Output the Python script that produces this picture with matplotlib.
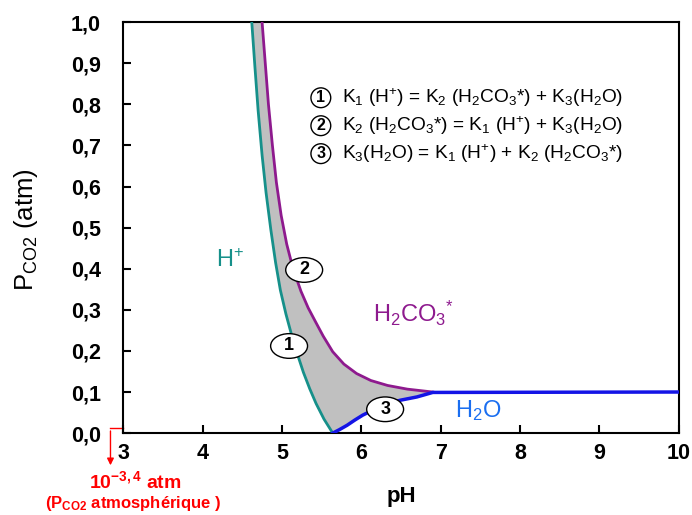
import matplotlib
matplotlib.use("Agg")
import matplotlib.pyplot as plt
from matplotlib.patches import Ellipse

plt.rcParams['font.family'] = ['Liberation Sans', 'DejaVu Sans']
plt.rcParams['mathtext.fontset'] = 'custom'
plt.rcParams['mathtext.rm'] = 'Liberation Sans'
plt.rcParams['mathtext.it'] = 'Liberation Sans'
plt.rcParams['mathtext.bf'] = 'Liberation Sans:bold'

# Curve 1 : K1(H+) = K2(H2CO3*) + K3(H2O)  (teal)
ph_1 = [4.62, 4.66, 4.70, 4.75, 4.80, 4.86, 4.92, 4.98, 5.05, 5.12, 5.19, 5.27, 5.35, 5.43, 5.53, 5.64]
p_1 = [1.0, 0.89, 0.785, 0.676, 0.585, 0.495, 0.415, 0.348, 0.29, 0.24, 0.195, 0.148, 0.108, 0.072, 0.034, 0.0]

# Curve 2 : K2(H2CO3*) = K1(H+) + K3(H2O)  (purple)
ph_2 = [4.75, 4.79, 4.83, 4.88, 4.93, 4.99, 5.06, 5.14, 5.24, 5.33, 5.42, 5.52, 5.64, 5.78, 5.94, 6.12, 6.33, 6.58, 6.90]
p_2 = [1.0, 0.90, 0.80, 0.70, 0.61, 0.53, 0.46, 0.40, 0.345, 0.305, 0.272, 0.236, 0.198, 0.168, 0.145, 0.128, 0.116, 0.107, 0.100]

# Curve 3 : K3(H2O) = K1(H+) + K2(H2CO3*)  (blue)
ph_3 = [5.64, 5.72, 5.82, 5.92, 6.02, 6.20, 6.35, 6.49, 6.70, 6.90, 10.0]
p_3 = [0.0, 0.008, 0.019, 0.032, 0.044, 0.061, 0.072, 0.080, 0.088, 0.099, 0.100]

x_ticks = [3, 4, 5, 6, 7, 8, 9, 10]
x_ticklabels = ['3', '4', '5', '6', '7', '8', '9', '10']
y_ticks = [0.0, 0.1, 0.2, 0.3, 0.4, 0.5, 0.6, 0.7, 0.8, 0.9, 1.0]
y_ticklabels = ['0,0', '0,1', '0,2', '0,3', '0,4', '0,5', '0,6', '0,7', '0,8', '0,9', '1,0']

legend_lines = [
    ('1', r'K$_1$ (H$^{+}$) = K$_2$ (H$_2$CO$_3$*) + K$_3$(H$_2$O)'),
    ('2', r'K$_2$ (H$_2$CO$_3$*) = K$_1$ (H$^{+}$) + K$_3$(H$_2$O)'),
    ('3', r'K$_3$(H$_2$O) = K$_1$ (H$^{+}$) + K$_2$ (H$_2$CO$_3$*)'),
]

# curve-number markers: (label, pH, PCO2)
marker_labels = ['2', '1', '3']
marker_ph = [5.28, 5.09, 6.30]
marker_p = [0.397, 0.212, 0.058]

teal = '#16908a'
purple = '#8e1a8e'
blue = '#1414e6'
lblue = '#1a6ef0'

fig = plt.figure(figsize=(6.92, 5.15), dpi=100)
ax = fig.add_axes([0.178, 0.159, 0.803, 0.798])

# Shaded region between the three curves
n3 = len(ph_3) - 1
poly_x = ph_1 + ph_3[1:n3] + ph_2[::-1][1:]
poly_y = p_1 + p_3[1:n3] + p_2[::-1][1:]
ax.fill(poly_x, poly_y, color='#c0c0c0', lw=0, zorder=1)

ax.plot(ph_1, p_1, color=teal, lw=2, zorder=3)
ax.plot(ph_2, p_2, color=purple, lw=2, zorder=3)
ax.plot(ph_3, p_3, color=blue, lw=2.5, zorder=3)

ax.set_xlim(3, 10)
ax.set_ylim(0, 1.0)
ax.set_xticks(x_ticks)
ax.set_xticklabels(x_ticklabels)
ax.set_yticks(y_ticks)
ax.set_yticklabels(y_ticklabels)
ax.tick_params(direction='in', length=6, width=1.5, labelsize=15.5)
ax.tick_params(axis='y', pad=16)
ax.tick_params(axis='x', pad=7)
for lab in ax.get_xticklabels() + ax.get_yticklabels():
    lab.set_fontweight('bold')
for s in ax.spines.values():
    s.set_linewidth(1.5)

ax.set_xlabel('pH', fontsize=16, fontweight='bold', labelpad=16)
fig.text(0.038, 0.555, r'P$_{\mathrm{CO2}}$ (atm)', rotation=90, fontsize=18.5,
         ha='center', va='center')

# Region labels
ax.text(4.35, 0.42, r'H$^{+}$', color=teal, fontsize=17, ha='center', va='center')
ax.text(6.66, 0.29, r'H$_2$CO$_3$$^{*}$', color=purple, fontsize=17, ha='center', va='center')
ax.text(7.47, 0.055, r'H$_2$O', color=lblue, fontsize=17, ha='center', va='center')

# Curve number ellipses
for lab, xm, ym in zip(marker_labels, marker_ph, marker_p):
    ax.add_patch(Ellipse((xm, ym), 0.465, 0.06, fc='white', ec='black', lw=1, zorder=5))
    ax.text(xm, ym, lab, fontsize=13, fontweight='bold', ha='center', va='center', zorder=6)

# Legend with circled numbers
for i, (num, txt) in enumerate(legend_lines):
    y = 0.816 - i * 0.068
    ax.text(5.49, y, num, fontsize=11.5, fontweight='bold', ha='center', va='center',
            bbox=dict(boxstyle='circle,pad=0.15', fc='white', ec='black', lw=1))
    ax.text(5.76, y, txt, fontsize=13.8, ha='left', va='center')

# Atmospheric PCO2 marker
ax.plot([3.0, 2.84], [0.012, 0.012], color='red', lw=1, clip_on=False)
ax.annotate('', xy=(2.84, -0.085), xytext=(2.84, 0.012),
            arrowprops=dict(arrowstyle='-|>', color='red', lw=1, mutation_scale=10),
            annotation_clip=False)
ax.text(3.15, -0.118, r'10$^{\mathbf{-3,4}}$ atm', color='red', fontsize=14,
        fontweight='bold', ha='center', va='center', clip_on=False)
ax.text(3.12, -0.172, r'(P$_{\mathbf{CO2}}$ atmosphérique )', color='red', fontsize=12,
        fontweight='bold', ha='center', va='center', clip_on=False)

fig.savefig('out.png', dpi=100)
